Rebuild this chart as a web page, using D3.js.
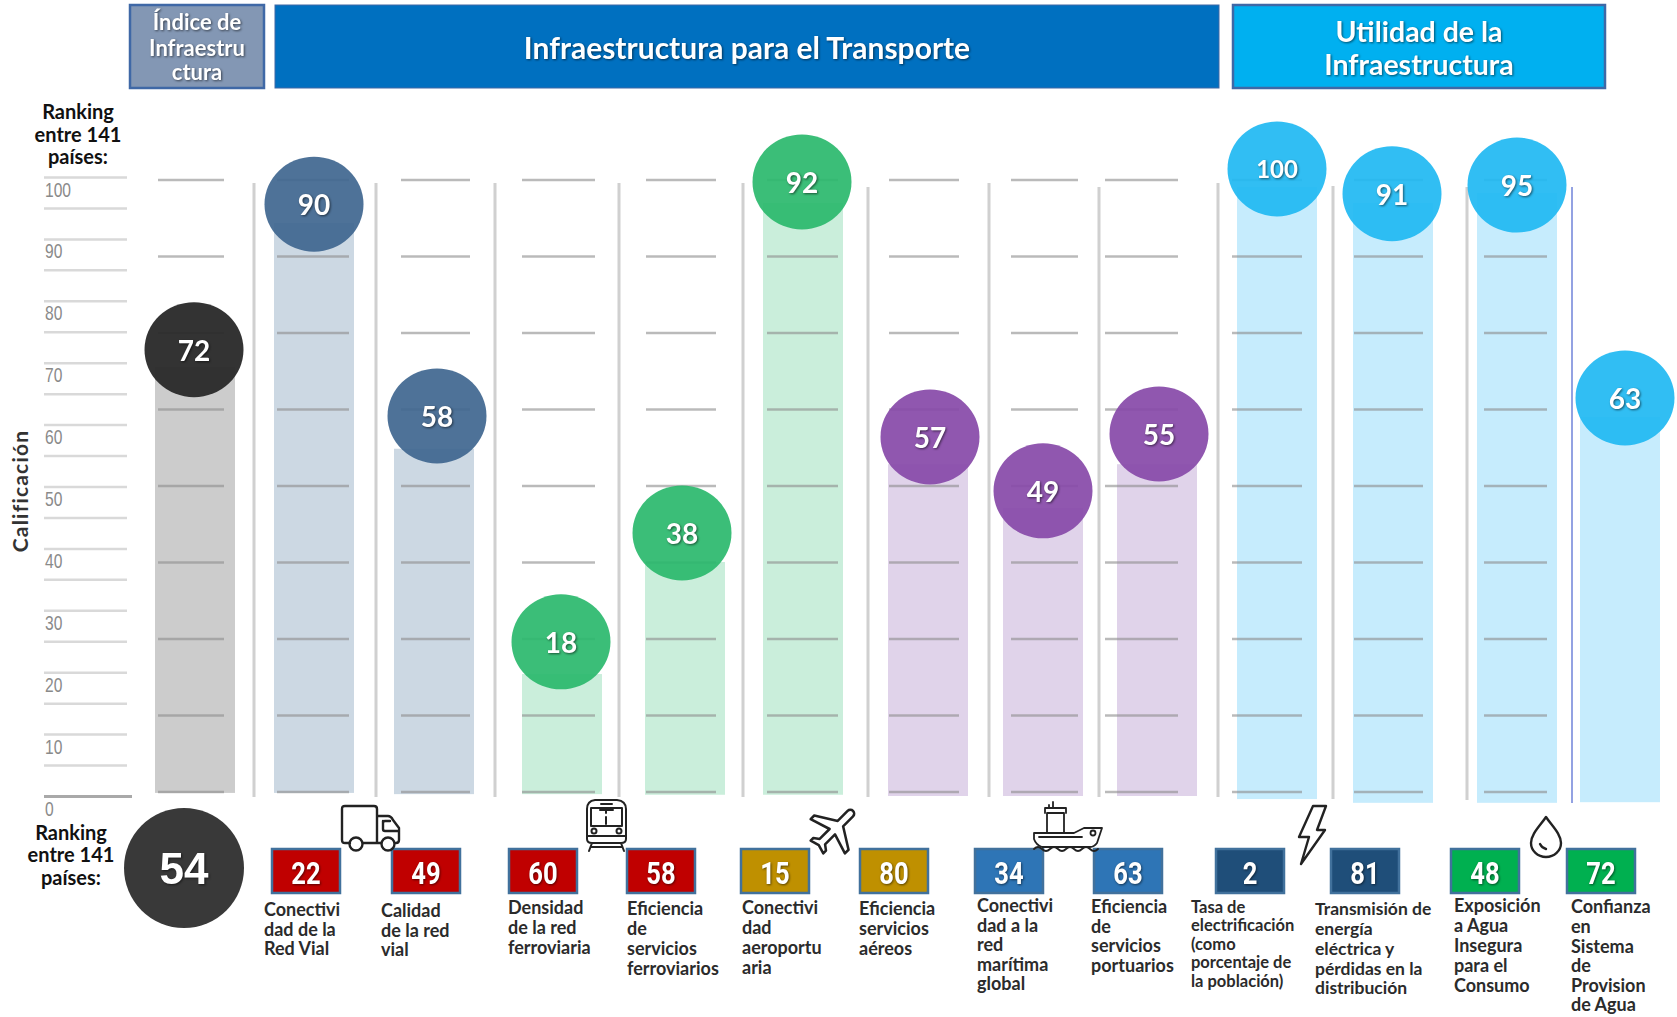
<!DOCTYPE html>
<html>

<head>
    <meta charset="utf-8">
    <style>
        html, body {
            margin: 0;
            background: #fff;
        }

        svg {
            display: block;
        }

        text {
            font-family: Lato, 'Open Sans', sans-serif;
        }

        .sombra {
            filter: drop-shadow(1px 1.5px 1px rgba(0, 0, 0, .55));
        }

        .y .domain {
            display: none;
        }

        .y .tick line {
            stroke: #d9d9d9;
            stroke-width: 2.5px;
        }

        .y .tick text {
            font-family: 'Liberation Sans', sans-serif;
            font-size: 20px;
            fill: #8a8a8a;
        }

        .etiqueta {
            font-size: 18px;
            font-weight: 700;
            fill: #2b2b2b;
        }

        .caja-num {
            font-family: Roboto, 'Liberation Sans', sans-serif;
            font-size: 32px;
            font-weight: 700;
            fill: #fff;
        }

        .grande {
            font-family: 'Liberation Sans', sans-serif;
            font-size: 44px;
            font-weight: 700;
            fill: #fff;
        }

        .icono {
            fill: none;
            stroke: #222;
            stroke-width: 2.4;
            stroke-linejoin: round;
            stroke-linecap: round;
        }
    </style>
</head>

<body>
    <svg width="1677" height="1017"></svg>

    <script src="https://d3js.org/d3.v7.min.js"></script>

    <script>
        // one entry per column, left to right
        let categorias = ["indice", "redVial", "calidadVial", "densidadFerro", "eficFerro", "conectAereo", "eficAereo",
            "conectMar", "eficPuerto", "electrif", "transmision", "aguaInsegura", "confianzaAgua"]

        // number printed in each bubble
        let calificacion = [72, 90, 58, 18, 38, 92, 57, 49, 55, 100, 91, 95, 63]
        // where things sit when read against the left axis (the picture is not to scale with its own labels)
        let topeBarra = [69.3, 92.6, 56.1, 19.7, 37.8, 95.8, 53.6, 46.5, 53.6, 98.4, 95.8, 97.4, 61.2]
        let baseBarra = [0.5, 0.5, 0.3, 0.3, 0.2, 0.2, 0, 0, 0, -0.5, -1.1, -1.1, -1]
        let centroBurbuja = [72.1, 95.6, 61.4, 24.9, 42.5, 99.2, 58, 49.3, 58.5, 101.3, 97.3, 98.7, 64.3]

        let grupos = ["gris", "azul", "azul", "verde", "verde", "verde", "morado", "morado", "morado", "celeste", "celeste", "celeste", "celeste"]

        let ranking = [22, 49, 60, 58, 15, 80, 34, 63, 2, 81, 48, 72]
        let rankingColor = ["rojo", "rojo", "rojo", "rojo", "oro", "oro", "medio", "medio", "marino", "marino", "verde", "verde"]

        let etiquetas = [
            ["Conectivi", "dad de la", "Red Vial"],
            ["Calidad", "de la red", "vial"],
            ["Densidad", "de la red", "ferroviaria"],
            ["Eficiencia", "de", "servicios", "ferroviarios"],
            ["Conectivi", "dad", "aeroportu", "aria"],
            ["Eficiencia", "servicios", "aéreos"],
            ["Conectivi", "dad a la", "red", "marítima", "global"],
            ["Eficiencia", "de", "servicios", "portuarios"],
            ["Tasa de", "electrificación", "(como", "porcentaje de", "la población)"],
            ["Transmisión de", "energía", "eléctrica y", "pérdidas en la", "distribución"],
            ["Exposición", "a Agua", "Insegura", "para el", "Consumo"],
            ["Confianza", "en", "Sistema", "de", "Provision", "de Agua"]
        ]

        let ticksMenores = d3.range(0, 101, 5)
        let nivelesRejilla = d3.range(0, 9)

        let rankingGeneral = 54

        let svg = d3.select("svg")

        let colorBarra = d3.scaleOrdinal()
            .domain(["gris", "azul", "verde", "morado", "celeste"])
            .range(["#cccccc", "#ccd8e3", "#caeedb", "#e0d3ea", "#c6ecfd"])

        let colorBurbuja = d3.scaleOrdinal()
            .domain(["gris", "azul", "verde", "morado", "celeste"])
            .range(["#2b2b2b", "#3f668f", "#2ab86c", "#8749a8", "#20b8f2"])

        let colorCaja = d3.scaleOrdinal()
            .domain(["rojo", "oro", "medio", "marino", "verde"])
            .range(["#c00000", "#bf9000", "#2e75b6", "#1f4e79", "#00b050"])

        let y = d3.scaleLinear()
            .domain([0, 100])
            .range([796, 177])

        // columns are not evenly spaced in the original, so ordinal ranges
        let xBarra = d3.scaleOrdinal()
            .domain(categorias)
            .range([155, 274, 394, 522, 645, 763, 888, 1003, 1117, 1237, 1353, 1477, 1580])
        let anchoBarra = 80

        let xBurbuja = d3.scaleOrdinal()
            .domain(categorias)
            .range([194, 314, 437, 561, 682, 802, 930, 1043, 1159, 1277, 1392, 1517, 1625])

        let yRejilla = d3.scaleLinear()
            .domain([0, 8])
            .range([792, 180])

        let tramosRejilla = [[158, 224], [277, 349], [401, 470], [522, 595], [646, 716], [767, 838], [889, 959],
            [1011, 1078], [1105, 1178], [1232, 1302], [1354, 1423], [1484, 1547]]

        let separadores = [
            [254, 183, 797], [376, 183, 797], [495, 183, 797], [619, 183, 797], [743, 183, 797], [868, 187, 797],
            [989, 183, 797], [1099, 187, 797], [1218, 183, 797], [1333, 186, 799], [1467, 187, 800]
        ]

        let filas = categorias.map((c, i) => ({
            c, grupo: grupos[i], valor: calificacion[i], tope: topeBarra[i], base: baseBarra[i], centro: centroBurbuja[i]
        }))

        // header boxes
        let cabeceras = [
            { x: 130, w: 134, fill: "#8397b4", stroke: "#3f68a6", sw: 2.5, size: 22, lines: ["Índice de", "Infraestru", "ctura"], ys: [22, 48, 72] },
            { x: 275, w: 944, fill: "#0070c0", stroke: "#3f68a6", sw: 1, size: 30, lines: ["Infraestructura para el Transporte"], ys: [48] },
            { x: 1233, w: 372, fill: "#00b0f0", stroke: "#3f68a6", sw: 2.5, size: 28.5, lines: ["Utilidad de la", "Infraestructura"], ys: [32, 65] }
        ]

        let cab = svg.append("g").selectAll("g")
            .data(cabeceras)
            .join("g")

        cab.append("rect")
            .attr("x", d => d.x)
            .attr("y", 5)
            .attr("width", d => d.w)
            .attr("height", 83)
            .attr("fill", d => d.fill)
            .attr("stroke", d => d.stroke)
            .attr("stroke-width", d => d.sw)

        cab.each(function (d) {
            d3.select(this).selectAll("text")
                .data(d.lines)
                .join("text")
                .attr("class", "sombra")
                .attr("x", d.x + d.w / 2)
                .attr("y", (l, i) => d.ys[i])
                .attr("dy", "0.35em")
                .attr("text-anchor", "middle")
                .attr("fill", "#fff")
                .attr("font-weight", 700)
                .attr("font-size", d.size)
                .text(l => l)
        })

        // left axis, labels sit below their line and are squeezed like the original's narrow face
        let yAxisSettings = d3.axisRight(y)
            .tickValues(ticksMenores)
            .tickSize(83)
            .tickFormat(d => d % 10 == 0 ? d : "")

        svg.append("g")
            .attr("class", "y axis")
            .attr("transform", "translate(44,0)")
            .call(yAxisSettings)
            .call(g => g.selectAll(".tick text")
                .attr("x", 0)
                .attr("dy", 0)
                .attr("transform", "translate(1,19) scale(0.78,1)")
                .attr("text-anchor", "start"))
            .call(g => g.selectAll(".tick")
                .filter(d => d == 0)
                .select("line")
                .attr("x2", 88)
                .style("stroke", "#a9a9a9")
                .style("stroke-width", "3px"))

        function bloque(lines, x, ys, anchor, size, color) {
            svg.append("g").selectAll("text")
                .data(lines)
                .join("text")
                .attr("x", x)
                .attr("y", (d, i) => ys[i])
                .attr("dy", "0.35em")
                .attr("text-anchor", anchor)
                .attr("font-size", size)
                .attr("font-weight", 700)
                .attr("fill", color)
                .text(d => d)
        }

        bloque(["Ranking", "entre 141", "países:"], 78, [112, 135, 157], "middle", 20, "#111")
        bloque(["Ranking", "entre 141", "países:"], 71, [833, 855, 878], "middle", 20, "#111")

        svg.append("text")
            .attr("transform", "translate(21,491) rotate(-90)")
            .attr("dy", "0.35em")
            .attr("text-anchor", "middle")
            .attr("font-size", 21)
            .attr("font-weight", 700)
            .attr("letter-spacing", 1.2)
            .attr("fill", "#333")
            .text("Calificación")

        // bars
        svg.append("g").selectAll("rect")
            .data(filas)
            .join("rect")
            .attr("x", d => xBarra(d.c))
            .attr("y", d => y(d.tope))
            .attr("width", anchoBarra)
            .attr("height", d => y(d.base) - y(d.tope))
            .attr("fill", d => colorBarra(d.grupo))

        // vertical separators
        svg.append("g").selectAll("line")
            .data(separadores)
            .join("line")
            .attr("x1", d => d[0])
            .attr("x2", d => d[0])
            .attr("y1", d => d[1])
            .attr("y2", d => d[2])
            .attr("stroke", "#d0d0d0")
            .attr("stroke-width", 3)

        svg.append("line")
            .attr("x1", 1572)
            .attr("x2", 1572)
            .attr("y1", 187)
            .attr("y2", 803)
            .attr("stroke", "#6f83d8")
            .attr("stroke-width", 1.5)

        // short grid dashes, one set per column
        let rejilla = svg.append("g")
        tramosRejilla.forEach(t => {
            rejilla.append("g").selectAll("line")
                .data(nivelesRejilla)
                .join("line")
                .attr("x1", t[0])
                .attr("x2", t[1])
                .attr("y1", d => yRejilla(d))
                .attr("y2", d => yRejilla(d))
                .attr("stroke", "#8c8c8c")
                .attr("stroke-opacity", 0.6)
                .attr("stroke-width", 2.5)
        })

        // bubbles
        let burbujas = svg.append("g").selectAll("g")
            .data(filas)
            .join("g")
            .attr("transform", d => `translate(${xBurbuja(d.c)},${y(d.centro)})`)

        burbujas.append("ellipse")
            .attr("rx", 49.5)
            .attr("ry", 47.5)
            .attr("fill", d => colorBurbuja(d.grupo))
            .attr("fill-opacity", d => d.grupo == "gris" ? 0.96 : 0.92)

        burbujas.append("text")
            .attr("class", "sombra")
            .attr("y", 1)
            .attr("dy", "0.35em")
            .attr("text-anchor", "middle")
            .attr("fill", "#fff")
            .attr("font-weight", 700)
            .attr("font-size", d => d.valor == 100 ? 24 : 28)
            .text(d => d.valor)

        // general ranking circle
        svg.append("circle")
            .attr("cx", 184)
            .attr("cy", 868)
            .attr("r", 60)
            .attr("fill", "#393939")

        svg.append("text")
            .attr("class", "sombra grande")
            .attr("x", 184)
            .attr("y", 869)
            .attr("dy", "0.35em")
            .attr("text-anchor", "middle")
            .text(rankingGeneral)

        // ranking boxes
        let xCaja = d3.scaleOrdinal()
            .domain(ranking.map((d, i) => i))
            .range([272, 392, 509, 627, 741, 860, 975, 1094, 1216, 1331, 1451, 1567])
        let xEtiqueta = d3.scaleOrdinal()
            .domain(ranking.map((d, i) => i))
            .range([264, 381, 508, 627, 742, 859, 977, 1091, 1191, 1315, 1454, 1571])
        let yEtiqueta = [910, 911, 908, 909, 908, 909, 906, 907, 907, 909, 906, 907]
        let pasoEtiqueta = [19.5, 19.5, 20, 20, 20, 20, 19.5, 19.5, 18.5, 19.8, 19.8, 19.6]

        let cajas = svg.append("g").selectAll("g")
            .data(ranking)
            .join("g")
            .attr("transform", (d, i) => `translate(${xCaja(i)},849)`)

        cajas.append("rect")
            .attr("width", 68)
            .attr("height", 44)
            .attr("fill", (d, i) => colorCaja(rankingColor[i]))
            .attr("stroke", "#41719c")
            .attr("stroke-width", 2.5)

        cajas.append("text")
            .attr("class", "caja-num sombra")
            .attr("transform", "translate(34,24) scale(0.8,1)")
            .attr("dy", "0.35em")
            .attr("text-anchor", "middle")
            .text(d => d)

        etiquetas.forEach((lineas, i) => {
            svg.append("g").selectAll("text")
                .data(lineas)
                .join("text")
                .attr("class", "etiqueta")
                .attr("x", xEtiqueta(i))
                .attr("y", (d, k) => yEtiqueta[i] + k * pasoEtiqueta[i])
                .attr("dy", "0.35em")
                .style("font-size", i == 8 ? "16.5px" : i == 9 ? "17.5px" : null)
                .text(d => d)
        })

        // icons over the boxes
        let iconos = svg.append("g").attr("class", "icono")

        let camion = iconos.append("g").attr("transform", "translate(341,805)")
        camion.append("path").attr("d", "M9 38H4Q1 38 1 35V4Q1 1 4 1H33Q36 1 36 4V38H22M36 38H40M36 11H47Q50 11 52 15L58 23V35Q58 38 55 38M42 16V24Q42 26 44 26H56M49 16H44Q42 16 42 18")
        camion.append("circle").attr("cx", 15).attr("cy", 39).attr("r", 6.5)
        camion.append("circle").attr("cx", 47).attr("cy", 39).attr("r", 6.5)

        let tren = iconos.append("g").attr("transform", "translate(586,799)").attr("stroke-width", 2)
        tren.append("path").attr("d", "M1 10Q1 2 9 1H31Q40 2 40 10V40Q40 44 35 44H6Q1 44 1 40ZM5 9H36V27H5ZM15 5H26M20 9V14M14 11H27M20 18V25M1 37H40M6 44L3 52M35 44L38 52M5 48H36")
        tren.append("circle").attr("cx", 8).attr("cy", 32).attr("r", 2.5)
        tren.append("circle").attr("cx", 33).attr("cy", 32).attr("r", 2.5)

        // plane outline on a 24 unit box, turned 45 degrees
        iconos.append("path")
            .attr("transform", "translate(835,829) rotate(45) scale(2.55) translate(-11.5,-12)")
            .attr("stroke-width", 1)
            .attr("d", "M21 16v-2l-8-5V3.5c0-.83-.67-1.5-1.5-1.5S10 2.67 10 3.5V9l-8 5v2l8-2.5V19l-2 1.5V22l3.5-1 3.5 1v-1.5L13 19v-5.5l8 2.5z")

        let barco = iconos.append("g").attr("transform", "translate(1034,801)").attr("stroke-width", 1.8)
        barco.append("path").attr("d", "M13 32V12H30V31M11 12V7H32V12M19 7V1M15 7V4M0 32H40L50 27H68L63 42Q60 46 56 46H8Q2 44 0 38ZM5 36H48")
        barco.append("path").attr("d", "M0 48Q4 44 8 48T16 48T24 48T32 48T40 48T48 48T56 48T64 48")
        barco.append("circle").attr("cx", 59).attr("cy", 32).attr("r", 2.5)

        iconos.append("path")
            .attr("transform", "translate(1298,805)")
            .attr("d", "M15 1H28L19 25H27L3 59L11 32H1Z")

        iconos.append("path")
            .attr("transform", "translate(1531,816)")
            .attr("d", "M15 1C21 10 30 18 30 27A15 14 0 0 1 0 27C0 18 9 10 15 1ZM9 28Q11 32 15 33")
    </script>
</body>

</html>
